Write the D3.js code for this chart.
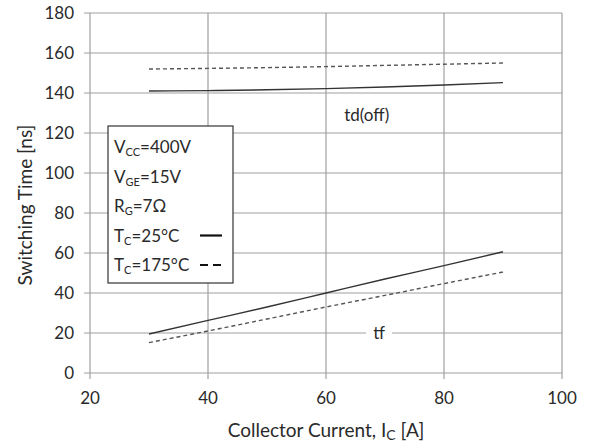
<!DOCTYPE html>
<html>
<head>
<meta charset="utf-8">
<script src="https://cdn.jsdelivr.net/npm/d3@7"></script>
<style>
  body { margin: 0; background: #fff; }
  text { font-family: Lato, "Open Sans", sans-serif; fill: #2a2a2a; }
</style>
</head>
<body>
<svg id="chart"></svg>
<script>
// switching time vs collector current

const width = 595;
const height = 446;

// data
const current = [30, 40, 50, 60, 70, 80, 90];
const tdoff25 = [141, 141.2, 141.6, 142.2, 143, 144, 145.2];
const tdoff175 = [152, 152.3, 152.7, 153.2, 153.8, 154.4, 155];
const tf25 = [19.5, 26.3, 33, 40, 47, 53.7, 60.6];
const tf175 = [15.2, 21, 27, 33, 38.8, 44.7, 50.5];

const xTicks = [20, 40, 60, 80, 100];
const yTicks = [0, 20, 40, 60, 80, 100, 120, 140, 160, 180];

const margin = { left: 90, right: 33, top: 13, bottom: 73 };

const svg = d3.select("#chart")
  .attr("width", width)
  .attr("height", height);

const x = d3.scaleLinear().domain([20, 100]).range([margin.left, width - margin.right]);
const y = d3.scaleLinear().domain([0, 180]).range([height - margin.bottom, margin.top]);

const gridColor = "#a0a0a0";

// grid lines
svg.append("g")
  .selectAll("line")
  .data(xTicks)
  .enter()
  .append("line")
  .attr("x1", d => x(d)).attr("x2", d => x(d))
  .attr("y1", y(180)).attr("y2", y(0) + 6)
  .attr("stroke", gridColor).attr("stroke-width", 1.2);

svg.append("g")
  .selectAll("line")
  .data(yTicks)
  .enter()
  .append("line")
  .attr("x1", x(20) - 6).attr("x2", x(100))
  .attr("y1", d => y(d)).attr("y2", d => y(d))
  .attr("stroke", gridColor).attr("stroke-width", 1.2);

// tick labels
svg.append("g")
  .selectAll("text")
  .data(xTicks)
  .enter()
  .append("text")
  .attr("x", d => x(d))
  .attr("y", y(0) + 31)
  .attr("text-anchor", "middle")
  .attr("font-size", 17)
  .text(d => d);

svg.append("g")
  .selectAll("text")
  .data(yTicks)
  .enter()
  .append("text")
  .attr("x", x(20) - 16)
  .attr("y", d => y(d) + 6)
  .attr("text-anchor", "end")
  .attr("font-size", 17)
  .text(d => d);

// axis titles
const xTitle = svg.append("text")
  .attr("x", 326)
  .attr("y", 437)
  .attr("text-anchor", "middle")
  .attr("font-size", 19);
xTitle.append("tspan").text("Collector Current, I");
xTitle.append("tspan").attr("font-size", 14).attr("dy", 3).text("C");
xTitle.append("tspan").attr("dy", -3).text(" [A]");

svg.append("text")
  .attr("transform", "translate(32,205) rotate(-90)")
  .attr("text-anchor", "middle")
  .attr("font-size", 19)
  .text("Switching Time [ns]");

// curve labels with white background
function curveLabel(txt, cx, cy, bw) {
  svg.append("rect")
    .attr("x", cx - bw / 2).attr("y", cy - 10)
    .attr("width", bw).attr("height", 20)
    .attr("fill", "#fff");
  svg.append("text")
    .attr("x", cx).attr("y", cy + 6)
    .attr("text-anchor", "middle")
    .attr("font-size", 17)
    .text(txt);
}
curveLabel("td(off)", x(66.9), y(129), 58);
curveLabel("tf", x(69), y(20), 26);

// curves
const line = d3.line()
  .x((d, i) => x(current[i]))
  .y(d => y(d))
  .curve(d3.curveMonotoneX);

const series = [
  { v: tdoff25, dash: null },
  { v: tdoff175, dash: "4,3" },
  { v: tf25, dash: null },
  { v: tf175, dash: "4,3" }
];

svg.append("g")
  .selectAll("path")
  .data(series)
  .enter()
  .append("path")
  .attr("d", d => line(d.v))
  .attr("fill", "none")
  .attr("stroke", d => d.dash ? "#555" : "#333")
  .attr("stroke-width", 1.4)
  .attr("stroke-dasharray", d => d.dash);

// legend box
const lg = svg.append("g");
lg.append("rect")
  .attr("x", 108).attr("y", 126)
  .attr("width", 125).attr("height", 157)
  .attr("fill", "#fff")
  .attr("stroke", "#333")
  .attr("stroke-width", 1.2);

const legendRows = [
  ["V", "CC", "=400V", null],
  ["V", "GE", "=15V", null],
  ["R", "G", "=7Ω", null],
  ["T", "C", "=25°C", "solid"],
  ["T", "C", "=175°C", "dash"]
];

legendRows.forEach(function (r, i) {
  const ty = 153 + i * 29.5;
  const t = lg.append("text")
    .attr("x", 114).attr("y", ty)
    .attr("font-size", 17);
  t.append("tspan").text(r[0]);
  t.append("tspan").attr("font-size", 11).attr("dy", 3).text(r[1]);
  t.append("tspan").attr("dy", -3).text(r[2]);
  if (r[3]) {
    lg.append("line")
      .attr("x1", 200).attr("x2", 222)
      .attr("y1", ty - 6).attr("y2", ty - 6)
      .attr("stroke", "#111")
      .attr("stroke-width", r[3] === "solid" ? 2.2 : 2)
      .attr("stroke-dasharray", r[3] === "dash" ? "8,5" : null);
  }
});
</script>
</body>
</html>
